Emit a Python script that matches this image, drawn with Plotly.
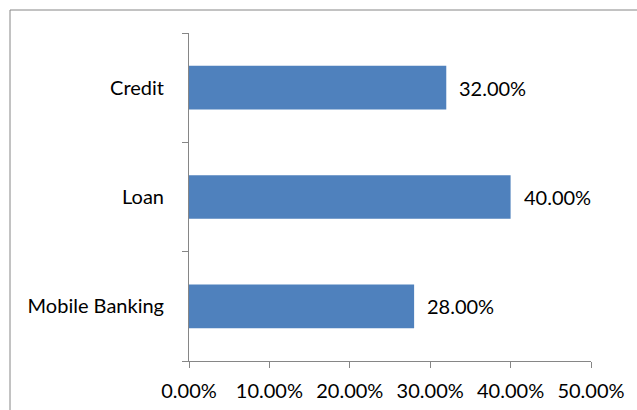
import plotly.graph_objects as go

categories = ["Mobile Banking", "Loan", "Credit"]
values = [0.28, 0.40, 0.32]
x_ticks = [0.0, 0.1, 0.2, 0.3, 0.4, 0.5]
x_tick_labels = ["0.00%", "10.00%", "20.00%", "30.00%", "40.00%", "50.00%"]

FONT = "Lato"
FS = 20
W, H = 637, 410
L, R, T, B = 189, 46, 33, 49
pw, ph = W - L - R, H - T - B

fig = go.Figure(go.Bar(
    y=categories, x=values, orientation="h",
    marker=dict(color="#4F81BD", line=dict(width=0)),
    width=0.4,
    hoverinfo="skip",
))

for c, v in zip(categories, values):
    fig.add_annotation(x=v, y=c, text=f"{v*100:.2f}%", showarrow=False,
                       xanchor="left", xshift=11, font=dict(family=FONT, size=FS, color="#000"))

fig.add_shape(type="rect", xref="paper", yref="paper",
              x0=(10 - L) / pw, x1=1.5, y0=-0.5, y1=1 + (T - 10) / ph,
              line=dict(color="#868686", width=1), fillcolor="rgba(0,0,0,0)", layer="below")

fig.update_layout(
    width=W, height=H,
    margin=dict(l=L, r=R, t=T, b=B, pad=0, autoexpand=False),
    paper_bgcolor="white", plot_bgcolor="white",
    showlegend=False,
    font=dict(family=FONT, size=FS, color="#000"),
    xaxis=dict(range=[0, 0.5], tickvals=x_ticks, ticktext=x_tick_labels, automargin=False,
               showgrid=False, zeroline=False, showline=True, linecolor="#868686", linewidth=1,
               ticks="outside", ticklen=6, tickcolor="#868686", tickwidth=1,
               ticklabelstandoff=6, fixedrange=True),
    yaxis=dict(categoryorder="array", categoryarray=categories, range=[-0.5, 2.5], automargin=False,
               showgrid=False, zeroline=False, showline=True, linecolor="#868686", linewidth=1,
               ticks="outside", ticklen=6, tickcolor="#868686", tickwidth=1,
               tickson="boundaries", ticklabelstandoff=20, fixedrange=True),
)

fig.write_html("out.html", config={"displayModeBar": False},
               post_script="document.body.style.margin='0';document.body.style.overflow='hidden';")
